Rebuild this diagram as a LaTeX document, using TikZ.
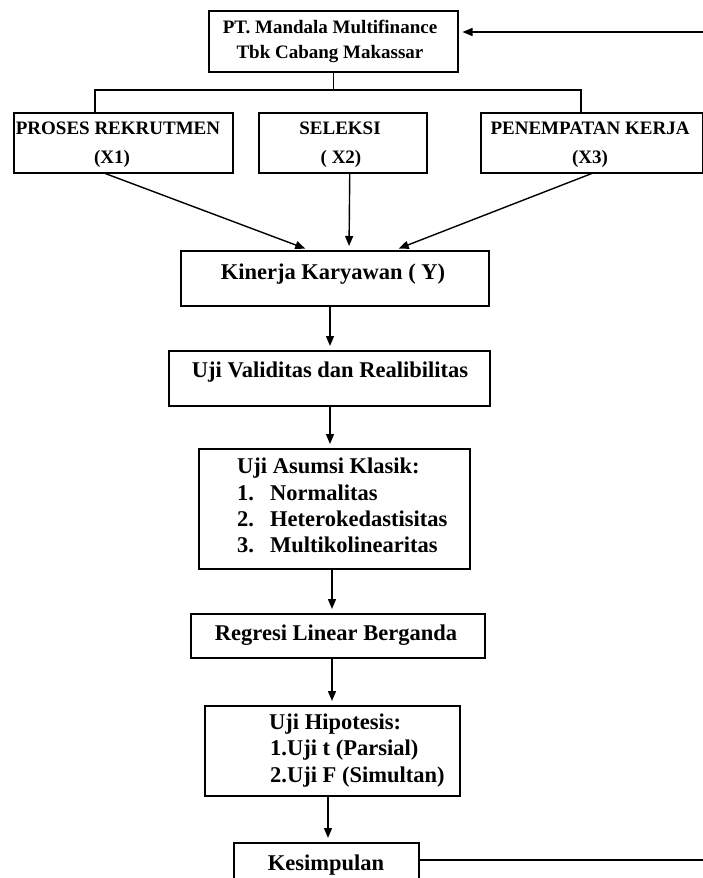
\documentclass[tikz,border=0pt]{standalone}
\usepackage{fontspec}
\setmainfont{Liberation Serif}
\usetikzlibrary{arrows.meta,calc}
\begin{document}
\begin{tikzpicture}[x=1pt,y=-1pt,
  box/.style={draw,line width=1.5pt,inner sep=0pt,anchor=north west},
  lbl/.style={inner sep=0pt,anchor=base,font=\bfseries\fontsize{22.5}{26}\selectfont},
  lbll/.style={inner sep=0pt,anchor=base west,font=\bfseries\fontsize{22.5}{26}\selectfont},
  slbl/.style={inner sep=0pt,anchor=base,font=\bfseries\fontsize{19}{22}\selectfont},
  conn/.style={line width=1.4pt},
  arr/.style={line width=1.4pt,-{Triangle[length=10pt,width=8pt]},shorten >=4pt}]
\useasboundingbox (0,0) rectangle (703,878);
\fill[white] (0,0) rectangle (703,878);

% boxes
\node[box,minimum width=249pt,minimum height=61pt] (top) at (208,10) {};
\node[box,minimum width=219pt,minimum height=60pt] (p1) at (13,112) {};
\node[box,minimum width=168pt,minimum height=60pt] (p2) at (258,112) {};
\node[box,minimum width=222pt,minimum height=60pt] (p3) at (480,112) {};
\node[box,minimum width=308pt,minimum height=55pt] (kin) at (180,250) {};
\node[box,minimum width=321pt,minimum height=55pt] (val) at (168,350) {};
\node[box,minimum width=271pt,minimum height=120pt] (asu) at (198,448) {};
\node[box,minimum width=294pt,minimum height=44pt] (reg) at (190,613) {};
\node[box,minimum width=255pt,minimum height=90pt] (hip) at (204,705) {};
\node[box,minimum width=185pt,minimum height=42pt] (kes) at (233,842) {};

% texts
\node[slbl] (t1) at (330,33) {PT. Mandala Multifinance};
\node[slbl] (t2) at (330,58) {Tbk Cabang Makassar};
\node[slbl] (p1a) at (118,134) {PROSES REKRUTMEN};
\node[slbl] (p1b) at (112,163) {(X1)};
\node[slbl] (p2a) at (340,134) {SELEKSI};
\node[slbl] (p2b) at (341,163) {( X2)};
\node[slbl] (p3a) at (590,134) {PENEMPATAN KERJA};
\node[slbl] (p3b) at (590,163) {(X3)};
\node[lbl] (kint) at (333,279) {Kinerja Karyawan ( Y)};
\node[lbl] (valt) at (330,377) {Uji Validitas dan Realibilitas};
\node[lbll] (asu0) at (237,473) {Uji Asumsi Klasik:};
\node[lbll] (asu1n) at (237,500) {1.};
\node[lbll] (asu1) at (270,500) {Normalitas};
\node[lbll] (asu2n) at (237,526) {2.};
\node[lbll] (asu2) at (270,526) {Heterokedastisitas};
\node[lbll] (asu3n) at (237,552) {3.};
\node[lbll] (asu3) at (270,552) {Multikolinearitas};
\node[lbl] (regt) at (336,640) {Regresi Linear Berganda};
\node[lbll] (hip0) at (269,729) {Uji Hipotesis:};
\node[lbll] (hip1) at (270,755) {1.Uji t (Parsial)};
\node[lbll] (hip2) at (270,782) {2.Uji F (Simultan)};
\node[lbl] (kest) at (326,870) {Kesimpulan};

% tree connector
\coordinate (tl) at (95,90);
\coordinate (tr) at (581,90);
\draw[conn] (top.south) -- (top.south |- tl);
\draw[conn] (tl |- p1.north) -- (tl) -- (tr) -- (tr |- p3.north);

% arrows to Kinerja
\coordinate (k1) at (309,250);
\coordinate (k2) at (349,250);
\coordinate (k3) at (395,250);
\draw[arr] ([xshift=-18pt]p1.south) -- (k1);
\draw[arr] ([xshift=7pt]p2.south) -- (k2);
\draw[arr] ([xshift=0pt]p3.south) -- (k3);

% vertical chain
\draw[arr] (kin.south -| 330,0) -- (val.north -| 330,0);
\draw[arr] (val.south -| 330,0) -- (asu.north -| 330,0);
\draw[arr] (asu.south -| 332,0) -- (reg.north -| 332,0);
\draw[arr] (reg.south -| 332,0) -- (hip.north -| 332,0);
\draw[arr] (hip.south -| 328,0) -- (kes.north -| 328,0);

% feedback
\coordinate (fbT) at (703,32);
\coordinate (fbB) at (703,860);
\draw[conn] (fbB -| kes.east) -- (fbB);
\draw[arr] (fbT) -- (fbT -| top.east);
\end{tikzpicture}
\end{document}
